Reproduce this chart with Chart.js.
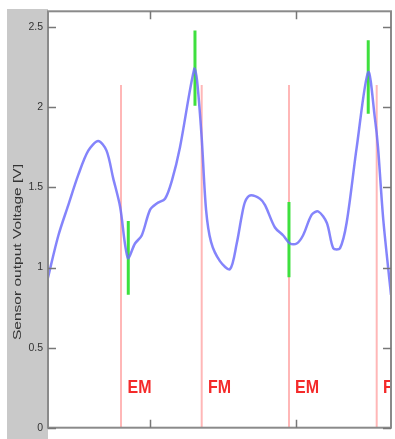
<!DOCTYPE html>
<html><head><meta charset="utf-8">
<script src="https://cdn.jsdelivr.net/npm/chart.js@4/dist/chart.umd.min.js"></script>
<style>html,body{margin:0;padding:0;background:#fff;}#wrap{width:395px;height:439px;}</style>
</head><body><div id="wrap"><canvas id="c" width="395" height="439"></canvas></div>
<script>
const xTicks = [1, 2];
const yTicks = [0, 0.5, 1, 1.5, 2, 2.5];
const timeX = [0.299,0.372,0.440,0.509,0.577,0.645,0.702,0.747,0.795,0.848,0.897,0.943,1.000,1.046,1.103,1.149,1.205,1.303,1.322,1.354,1.384,1.418,1.479,1.548,1.594,1.628,1.651,1.685,1.753,1.788,1.856,1.913,1.959,2.005,2.048,2.108,2.153,2.211,2.256,2.301,2.347,2.416,2.495,2.541,2.562,2.598,2.651];
const voltage = [0.93,1.20,1.39,1.58,1.73,1.79,1.73,1.56,1.38,1.06,1.15,1.20,1.36,1.40,1.43,1.54,1.75,2.24,2.17,1.81,1.36,1.16,1.04,0.99,1.15,1.32,1.41,1.45,1.43,1.39,1.25,1.20,1.15,1.15,1.20,1.33,1.35,1.28,1.12,1.12,1.28,1.75,2.22,1.93,1.75,1.30,0.83];
const markerX = [0.801, 1.354, 1.952, 2.553];
const markerTop = 2.14;
const markerLabels = ['EM', 'FM', 'EM', 'FM'];
const labelX = [0.846, 1.397, 1.993, 2.596];
const labelY = 0.25;
const peakX = [0.851, 1.308, 1.952, 2.495];
const peakLow = [0.83, 2.01, 0.94, 1.96];
const peakHigh = [1.29, 2.48, 1.41, 2.42];
const yTitle = 'Sensor output Voltage [V]';

const blueData = timeX.map((x, i) => ({x, y: voltage[i]}));
const pinkData = [];
markerX.forEach(x => { pinkData.push({x, y: 0}, {x, y: markerTop}, {x, y: null}); });
const greenData = [];
peakX.forEach((x, i) => { greenData.push({x, y: peakLow[i]}, {x, y: peakHigh[i]}, {x, y: null}); });

const frame = {
  id: 'frame',
  beforeDraw(chart) {
    const ctx = chart.ctx;
    ctx.save();
    ctx.fillStyle = '#c9c9c9';
    ctx.fillRect(7, 9, 41, 430);
    ctx.restore();
  },
  afterDraw(chart) {
    const ctx = chart.ctx;
    ctx.save();
    ctx.translate(17.5, 252);
    ctx.scale(1, 1.35);
    ctx.rotate(-Math.PI / 2);
    ctx.fillStyle = '#333';
    ctx.font = '11.5px "Liberation Sans", Arial, sans-serif';
    ctx.textAlign = 'center'; ctx.textBaseline = 'middle';
    ctx.fillText(yTitle, 0, 0);
    ctx.restore();
  },
  afterDatasetsDraw(chart) {
    const ctx = chart.ctx, a = chart.chartArea;
    const xs = chart.scales.x, ys = chart.scales.y;
    ctx.save();
    ctx.beginPath(); ctx.rect(a.left, a.top, a.right - a.left, a.bottom - a.top); ctx.clip();
    ctx.fillStyle = '#f42a2a';
    ctx.font = 'bold 16px "Liberation Sans", Arial, sans-serif';
    ctx.textAlign = 'left'; ctx.textBaseline = 'middle';
    markerLabels.forEach((t, i) => {
      ctx.save();
      ctx.translate(xs.getPixelForValue(labelX[i]), ys.getPixelForValue(labelY));
      ctx.scale(1, 1.1);
      ctx.fillText(t, 0, 0);
      ctx.restore();
    });
    ctx.restore();
    ctx.save();
    ctx.strokeStyle = '#8a8a8a'; ctx.lineWidth = 2;
    ctx.strokeRect(a.left, a.top, a.right - a.left, a.bottom - a.top);
    ctx.lineWidth = 1.5; ctx.strokeStyle = '#777';
    ctx.beginPath();
    yTicks.forEach(v => {
      const p = Math.round(ys.getPixelForValue(v)) + 0.5;
      ctx.moveTo(a.left, p); ctx.lineTo(a.left + 8, p);
      ctx.moveTo(a.right, p); ctx.lineTo(a.right - 8, p);
    });
    xTicks.forEach(v => {
      const p = Math.round(xs.getPixelForValue(v)) + 0.5;
      ctx.moveTo(p, a.top); ctx.lineTo(p, a.top + 8);
      ctx.moveTo(p, a.bottom); ctx.lineTo(p, a.bottom - 8);
    });
    ctx.stroke();
    ctx.restore();
  }
};

new Chart(document.getElementById('c'), {
  type: 'line',
  data: {
    datasets: [
      {data: blueData, borderColor: 'rgba(110,110,250,0.85)', borderWidth: 2.5, tension: 0.3, pointRadius: 0, fill: false},
      {data: greenData, borderColor: '#3ee03e', borderWidth: 3, tension: 0, pointRadius: 0, spanGaps: false},
      {data: pinkData, borderColor: 'rgba(255,170,170,0.85)', borderWidth: 2, tension: 0, pointRadius: 0, spanGaps: false}
    ]
  },
  options: {
    responsive: false, animation: false,
    layout: {padding: {left: 0, right: 4, top: 11, bottom: 0}},
    plugins: {legend: {display: false}, tooltip: {enabled: false}},
    scales: {
      x: {
        type: 'linear', min: 0.301, max: 2.651,
        afterBuildTicks: s => { s.ticks = xTicks.map(v => ({value: v})); },
        afterFit: s => { s.height = 3; },
        grid: {display: false, drawTicks: false},
        border: {display: false},
        ticks: {display: false}
      },
      y: {
        type: 'linear', min: 0, max: 2.6,
        afterBuildTicks: s => { s.ticks = yTicks.map(v => ({value: v})); },
        afterFit: s => { s.width = 48; },
        grid: {display: false, drawTicks: false, tickLength: 0},
        border: {display: false},
        ticks: {padding: 5, color: '#333', font: {family: '"Liberation Sans", Arial, sans-serif', size: 10.5}, callback: v => String(v)},
        title: {display: false}
      }
    }
  },
  plugins: [frame]
});
</script></body></html>
